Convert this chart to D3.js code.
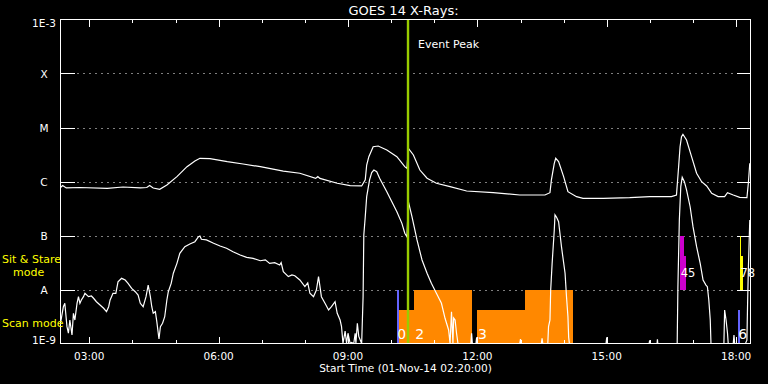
<!DOCTYPE html>
<html><head><meta charset="utf-8">
<script src="https://cdn.jsdelivr.net/npm/d3@7"></script>
<style>
html,body{margin:0;padding:0;background:#000;}
svg{display:block;}
text{font-family:"DejaVu Sans",sans-serif;}
</style></head>
<body>
<script>
// ---------------- data ----------------
const longTimes = ["02:20","02:23","02:28","02:47","03:25","03:47","04:11","04:20","04:24","04:29","04:38","04:48","05:02","05:16","05:27","05:34","05:48","06:12","06:34","06:58","07:30","07:53","08:15","08:18","08:21","08:45","09:03","09:19","09:24","09:26","09:29","09:35","09:42","09:54","10:08","10:19","10:22","10:24","10:31","10:40","10:50","11:03","11:22","11:45","12:22","12:59","13:34","13:41","13:43","13:47","13:49","13:53","14:00","14:06","14:18","14:27","14:55","15:32","16:00","16:30","16:37","16:40","16:42","16:44","16:46","16:51","16:58","17:05","17:12","17:19","17:26","17:35","17:44","17:48","17:56","18:05","18:15","18:17","18:19"];
const longFlux = [7.74e-7,8.43e-7,7.59e-7,7.74e-7,7.49e-7,7.91e-7,7.59e-7,7.74e-7,8.43e-7,7.59e-7,7.18e-7,8.61e-7,1.23e-6,1.88e-6,2.40e-6,2.69e-6,2.66e-6,2.33e-6,2.11e-6,1.88e-6,1.56e-6,1.42e-6,1.14e-6,1.24e-6,1.14e-6,9.27e-7,8.36e-7,8.27e-7,1.07e-6,2.02e-6,2.88e-6,4.41e-6,4.54e-6,3.83e-6,2.88e-6,1.88e-6,1.75e-6,4.12e-6,3.10e-6,1.63e-6,1.15e-6,9.27e-7,8.02e-7,6.67e-7,6.21e-7,5.62e-7,5.62e-7,6.21e-7,1.07e-6,2.17e-6,2.69e-6,2.33e-6,1.23e-6,6.47e-7,5.24e-7,4.89e-7,4.89e-7,5.01e-7,5.24e-7,5.24e-7,5.62e-7,1.88e-6,4.41e-6,6.76e-6,7.49e-6,5.87e-6,2.88e-6,1.42e-6,9.91e-7,8.27e-7,6.04e-7,5.24e-7,5.24e-7,6.21e-7,5.62e-7,5.09e-7,5.01e-7,9.27e-7,2.17e-6];

const shortTimes = ["02:20","02:24","02:26","02:29","02:31","02:33","02:36","02:38","02:40","02:43","02:45","02:47","02:49","02:52","02:54","02:59","03:03","03:06","03:10","03:15","03:20","03:24","03:27","03:29","03:31","03:33","03:37","03:40","03:45","03:50","03:54","03:59","04:04","04:08","04:11","04:15","04:19","04:22","04:25","04:27","04:29","04:32","04:34","04:36","04:37","04:39","04:42","04:45","04:48","04:50","04:54","04:57","05:02","05:06","05:13","05:20","05:27","05:32","05:34","05:36","05:43","05:53","06:02","06:11","06:20","06:30","06:39","06:48","06:58","07:05","07:11","07:18","07:25","07:27","07:30","07:37","07:42","07:46","07:53","08:00","08:04","08:07","08:12","08:16","08:19","08:21","08:23","08:28","08:33","08:37","08:42","08:45","08:49","08:51","08:53","08:56","08:58","09:00","09:03","09:05","09:08","09:10","09:11","09:13","09:15","09:19","09:21","09:22","09:24","09:26","09:30","09:33","09:36","09:40","09:44","09:49","09:54","10:01","10:08","10:15","10:19","10:22","10:24","10:29","10:36","10:43","10:50","10:56","11:03","11:10","11:15","11:20","11:22","11:24","11:26","11:27","11:29","11:31","11:33","11:51","11:52","11:53","11:58","11:59","12:00","12:59","13:00","13:01","13:29","13:30","13:31","13:38","13:39","13:41","13:42","13:44","13:47","13:48","13:50","13:53","13:57","14:02","14:04","14:06","14:07","14:08","14:59","15:00","15:01","15:59","15:59:40","16:00","16:10","16:10:30","16:11","16:38","16:39","16:41","16:43","16:45","16:48","16:51","16:56","17:00","17:05","17:10","17:14","17:18","17:20","17:22","17:24","17:25","17:43","17:44","17:46","17:48","17:49","17:56","17:57","17:58","18:13","18:15","18:16","18:17","18:19"];
const shortFlux = [2.37e-9,4.80e-9,5.55e-9,2.05e-9,1.55e-9,2.72e-9,1.44e-9,3.62e-9,2.72e-9,5.55e-9,7.36e-9,5.55e-9,6.40e-9,7.36e-9,8.51e-9,7.36e-9,7.59e-9,6.88e-9,5.94e-9,5.16e-9,4.49e-9,3.88e-9,4.80e-9,6.40e-9,7.36e-9,8.51e-9,8.51e-9,1.39e-8,1.61e-8,1.50e-8,1.30e-8,1.05e-8,9.10e-9,7.91e-9,5.55e-9,4.80e-9,7.36e-9,1.21e-8,7.36e-9,4.80e-9,3.62e-9,3.88e-9,2.54e-9,1.55e-9,1.21e-9,2.05e-9,2.37e-9,3.13e-9,6.40e-9,9.10e-9,1.30e-8,2.00e-8,3.05e-8,4.68e-8,6.21e-8,6.97e-8,7.68e-8,9.50e-8,9.79e-8,8.51e-8,8.27e-8,7.18e-8,6.40e-8,5.80e-8,5.01e-8,4.35e-8,3.94e-8,3.78e-8,3.41e-8,3.55e-8,3.05e-8,3.15e-8,2.84e-8,3.16e-8,2.14e-8,1.73e-8,1.86e-8,1.80e-8,1.50e-8,1.13e-8,1.32e-8,8.51e-9,7.36e-9,9.79e-9,1.73e-8,1.13e-8,7.36e-9,5.55e-9,4.17e-9,4.80e-9,5.94e-9,3.62e-9,2.72e-9,2.05e-9,9e-10,1.70e-9,1.0e-9,1.55e-9,9e-10,1.05e-9,9e-10,1.55e-9,9e-10,2.37e-9,1.35e-9,9e-10,7.36e-9,1.02e-7,2.23e-7,5.24e-7,1.07e-6,1.46e-6,1.63e-6,1.52e-6,1.15e-6,8.61e-7,6.47e-7,4.23e-7,2.76e-7,1.68e-7,1.10e-7,9.50e-8,4.23e-7,2.23e-7,8.27e-8,3.52e-8,2.00e-8,1.30e-8,8.51e-9,5.55e-9,2.93e-9,1.78e-9,9e-10,3.88e-9,9e-10,2.96e-9,2.72e-9,1.55e-9,9e-10,9e-10,1.55e-9,9e-10,9e-10,1.3e-9,9e-10,9e-10,1.2e-9,9e-10,9e-10,1.25e-9,9e-10,9e-10,2.05e-9,2.72e-9,9.79e-9,3.05e-8,1.26e-7,2.40e-7,2.19e-7,1.80e-7,6.21e-8,2.00e-8,7.36e-9,3.13e-9,1.3e-9,9e-10,9e-10,1.3e-9,9e-10,9e-10,1.15e-9,9e-10,9e-10,1.2e-9,9e-10,9e-10,1.13e-8,1.94e-7,8.02e-7,1.20e-6,9.91e-7,6.97e-7,3.41e-7,1.46e-7,6.21e-8,3.05e-8,1.50e-8,1.21e-8,1.13e-8,6.40e-9,2.72e-9,9e-10,9e-10,4.17e-9,2.72e-9,1.55e-9,9e-10,9e-10,1.44e-9,9e-10,9e-10,1.15e-9,5.94e-9,2.30e-8,1.94e-7];

// observation bars
const barStart = ["10:07:50","10:11:25","10:32","12:00","13:06","16:42","16:47","18:05","18:07","18:03"];
const barEnd   = ["10:11:25","10:32","11:53","13:06","14:12:30","16:47","16:50","18:07","18:09","18:06"];
const barLow   = [1e-9,1e-9,1e-9,1e-9,1e-9,1e-8,1e-8,1e-8,1e-8,1e-9];
const barHigh  = [1e-8,4.17e-9,1e-8,4.17e-9,1e-8,1e-7,4.17e-8,1e-7,4.17e-8,4.17e-9];
const barKind  = ["raster","scan","scan","scan","scan","sit","sit","sit2","sit2","raster"];

const obsLabel = ["0","2","3","4","5","6","7","8"];
const obsLabelTime = ["10:08:30","10:33:30","12:01","16:43","16:47","18:03","18:06","18:09"];
const obsLabelRow = ["scan","scan","scan","sit","sit","scan","sit","sit"];

const levelValues = [1e-3,1e-4,1e-5,1e-6,1e-7,1e-8,1e-9];
const levelLabels = ["1E-3","X","M","C","B","A","1E-9"];

const eventPeakTime = "10:23:30";
const startTime = "02:20";
const endTime = "18:20";

// ---------------- drawing ----------------
function T(s){const p=s.split(":").map(Number);return new Date(2014,10,1,p[0],p[1],p[2]||0);}

const W=768,H=384;
const L=60.5,R=750.5,TOP=19.5,BOT=343.5;
const svg=d3.select("body").append("svg").attr("width",W).attr("height",H).style("background","#000");
svg.append("rect").attr("width",W).attr("height",H).attr("fill","#000");

const x=d3.scaleTime().domain([T(startTime),T(endTime)]).range([L,R]);
const y=d3.scaleLog().domain([1e-9,1e-3]).range([BOT,TOP]).clamp(true);

svg.append("clipPath").attr("id","clip").append("rect")
  .attr("x",L).attr("y",TOP).attr("width",R-L).attr("height",BOT-TOP);

// grid (dotted) + ticks on y
const mid=levelValues.slice(1,-1);
svg.append("g").selectAll("line").data(mid).join("line")
  .attr("x1",L+17).attr("x2",R-15).attr("y1",d=>Math.round(y(d))+0.5).attr("y2",d=>Math.round(y(d))+0.5)
  .attr("stroke","#fff").attr("stroke-width",1).attr("stroke-dasharray","1,5");
svg.append("g").selectAll("line").data(mid).join("line")
  .attr("x1",L).attr("x2",L+14).attr("y1",d=>Math.round(y(d))+0.5).attr("y2",d=>Math.round(y(d))+0.5)
  .attr("stroke","#fff").attr("shape-rendering","crispEdges");
svg.append("g").selectAll("line").data(mid).join("line")
  .attr("x1",R-14).attr("x2",R).attr("y1",d=>Math.round(y(d))+0.5).attr("y2",d=>Math.round(y(d))+0.5)
  .attr("stroke","#fff").attr("shape-rendering","crispEdges");

// bars
const barColor=d3.scaleOrdinal().domain(["raster","scan","sit","sit2"]).range(["#6464ff","#ff8800","#cc00cc","#ffff00"]);
const bars=barStart.map((s,i)=>({s:T(s),e:T(barEnd[i]),lo:barLow[i],hi:barHigh[i],k:barKind[i]}));
const order=["scan","raster","sit","sit2"];
svg.append("g").attr("clip-path","url(#clip)").selectAll("rect")
  .data(bars.slice().sort((a,b)=>order.indexOf(a.k)-order.indexOf(b.k))).join("rect")
  .attr("x",d=>x(d.s)).attr("width",d=>x(d.e)-x(d.s))
  .attr("y",d=>y(d.hi)).attr("height",d=>y(d.lo)-y(d.hi))
  .attr("fill",d=>barColor(d.k)).attr("shape-rendering","crispEdges");

// curves
const line=d3.line().x(d=>x(d.t)).y(d=>y(d.v));
const longData=longTimes.map((t,i)=>({t:T(t),v:longFlux[i]}));
const shortData=shortTimes.map((t,i)=>({t:T(t),v:shortFlux[i]}));
const cg=svg.append("g").attr("clip-path","url(#clip)");
cg.append("path").datum(longData).attr("d",line).attr("fill","none").attr("stroke","#fff").attr("stroke-width",1.2);
cg.append("path").datum(shortData).attr("d",line).attr("fill","none").attr("stroke","#fff").attr("stroke-width",1.2);

// observation labels (labels too close in the same row are joined into one text)
const rowY={scan:y(1e-9)-5,sit:y(1e-8)-13};
const lab=[];
obsLabel.forEach((t,i)=>{
  const xx=x(T(obsLabelTime[i])), row=obsLabelRow[i];
  const prev=lab.find(l=>l.row===row && Math.abs(l.x-xx)<8);
  if(prev){prev.text+=t;prev.n++;} else lab.push({x:xx,row:row,text:t,n:1});
});
svg.append("g").selectAll("text").data(lab).join("text")
  .attr("x",d=>d.x).attr("y",d=>rowY[d.row])
  .attr("fill","#fff").attr("font-size",d=>d.n>1?11.5:14).text(d=>d.text);

// event peak
const ex=x(T(eventPeakTime));
svg.append("line").attr("x1",ex).attr("x2",ex).attr("y1",TOP).attr("y2",BOT)
  .attr("stroke","#99cc00").attr("stroke-width",2.4);
svg.append("text").attr("x",ex+10).attr("y",48).attr("fill","#fff").attr("font-size",11).text("Event Peak");

// frame
svg.append("rect").attr("x",L).attr("y",TOP).attr("width",R-L).attr("height",BOT-TOP)
  .attr("fill","none").attr("stroke","#fff").attr("shape-rendering","crispEdges");

// x ticks
const hours=x.ticks(d3.timeHour.every(1));
const tg=svg.append("g").attr("shape-rendering","crispEdges");
hours.forEach(h=>{
  const major=h.getHours()%3===0;
  const xx=Math.round(x(h))+0.5, len=major?7:3.5;
  tg.append("line").attr("x1",xx).attr("x2",xx).attr("y1",TOP).attr("y2",TOP+len).attr("stroke","#fff");
  tg.append("line").attr("x1",xx).attr("x2",xx).attr("y1",BOT).attr("y2",BOT-len).attr("stroke","#fff");
});
const fmt=d3.timeFormat("%H:%M");
svg.append("g").selectAll("text").data(hours.filter(h=>h.getHours()%3===0)).join("text")
  .attr("x",d=>x(d)).attr("y",359.5).attr("text-anchor","middle")
  .attr("fill","#fff").attr("font-size",10.5).text(d=>fmt(d));

// y labels
svg.append("g").selectAll("text").data(levelValues).join("text")
  .attr("x",44).attr("y",(d,i)=>y(d)+(i===0?7.3:(i===levelValues.length-1?0:4.3)))
  .attr("text-anchor","middle").attr("fill","#ffffff").attr("font-size",10.5)
  .text((d,i)=>levelLabels[i]);

// titles
svg.append("text").attr("x",(L+R)/2-2).attr("y",15).attr("text-anchor","middle")
  .attr("fill","#fff").attr("font-size",13).text("GOES 14 X-Rays:");
svg.append("text").attr("x",(L+R)/2).attr("y",372).attr("text-anchor","middle")
  .attr("fill","#fff").attr("font-size",10.6).text("Start Time (01-Nov-14 02:20:00)");

// mode labels
svg.append("text").attr("x",2).attr("y",262.5).attr("fill","#ffff00").attr("font-size",11).text("Sit & Stare");
svg.append("text").attr("x",13).attr("y",276).attr("fill","#ffff00").attr("font-size",11).text("mode");
svg.append("text").attr("x",2).attr("y",327).attr("fill","#ffff00").attr("font-size",11).text("Scan mode");
</script>
</body></html>
